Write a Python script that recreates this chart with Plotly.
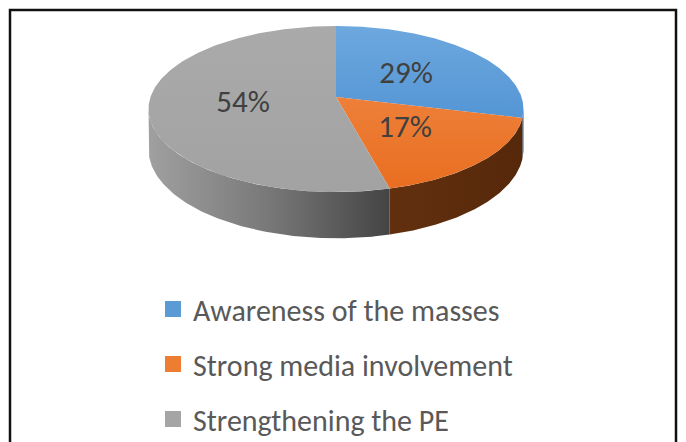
import numpy as np
import plotly.graph_objects as go

# ---- data ----
categories = ["Awareness of the masses", "Strong media involvement", "Strengthening the PE"]
values = [29, 17, 54]
labels = ["29%", "17%", "54%"]

# ---- style ----
top_scales = [
    [[0, "#6da8de"], [1, "#3f86cd"]],
    [[0, "#f28d4c"], [1, "#e86d1f"]],
    [[0, "#aaaaaa"], [1, "#a2a2a2"]],
]
side_scales = [
    [[0, "#2f5f8f"], [1, "#25507c"]],
    [[0, "#62300f"], [1, "#56280a"]],
    [[0, "#a0a0a0"], [0.5, "#787878"], [1, "#444444"]],
]
legend_colors = ["#5b9bd5", "#ed7d31", "#a5a5a5"]
FONT = "Carlito, 'Liberation Sans Narrow', 'DejaVu Sans Condensed', sans-serif"

W, H = 686, 442
CX, CY = 336, 97          # projected apex
A, B, K = 185.5, 81.3, 0.145   # perspective ellipse
DEPTH = 39.5
LABEL_DY = 2


def proj(theta_deg, r=1.0):
    t = np.radians(theta_deg)
    u = r * np.sin(t)
    v = -r * np.cos(t)
    w = 1 - K * v
    return CX + A * u / w, CY + B * v / w, w


total = float(sum(values))
ends = np.cumsum(values) / total * 360.0
starts = np.concatenate([[0.0], ends[:-1]])

s1 = np.degrees(np.arccos(-K))
s2 = 360.0 - s1

fig = go.Figure()

# sides
for i in range(len(values)):
    lo, hi = max(starts[i], s1), min(ends[i], s2)
    if lo >= hi:
        continue
    th = np.linspace(lo, hi, 120)
    x, y, w = proj(th)
    yb = y + DEPTH / w
    px = np.concatenate([x, x[::-1]])
    py = np.concatenate([y, yb[::-1]])
    fig.add_trace(go.Scatter(
        x=px, y=py, mode="lines", fill="toself",
        line=dict(width=0),
        fillgradient=dict(type="horizontal", colorscale=side_scales[i],
                          start=float(x.min()), stop=float(x.max())),
        hoverinfo="skip", showlegend=False))

# tops
for i in range(len(values)):
    th = np.linspace(starts[i], ends[i], 200)
    x, y, w = proj(th)
    px = np.concatenate([[CX], x, [CX]])
    py = np.concatenate([[CY], y, [CY]])
    fig.add_trace(go.Scatter(
        x=px, y=py, mode="lines", fill="toself",
        line=dict(width=0),
        fillgradient=dict(type="vertical", colorscale=top_scales[i],
                          start=26, stop=195),
        hoverinfo="skip", showlegend=False))

# labels
mids = (starts + ends) / 2
lx, ly, _ = proj(mids, 0.5)
fig.add_trace(go.Scatter(
    x=lx, y=ly + LABEL_DY, mode="text", text=labels,
    textfont=dict(family=FONT, size=31, color="#404040"),
    hoverinfo="skip", showlegend=False))

# legend entries
for i, c in enumerate(categories):
    fig.add_trace(go.Scatter(
        x=[None], y=[None], mode="markers", name=c, legendgroup=str(i),
        marker=dict(symbol="square", size=18, color=legend_colors[i]),
        showlegend=True))

fig.add_shape(type="rect", xref="x", yref="y", x0=10, y0=10, x1=676, y1=470,
              line=dict(color="#111111", width=2.5), fillcolor="rgba(0,0,0,0)",
              layer="above")

fig.update_layout(
    width=W, height=H,
    margin=dict(l=0, r=0, t=0, b=0, autoexpand=False),
    paper_bgcolor="white", plot_bgcolor="white",
    xaxis=dict(range=[0, W], visible=False, fixedrange=True),
    yaxis=dict(range=[H, 0], visible=False, fixedrange=True),
    showlegend=True,
    legend=dict(x=153 / W, y=1 - 283 / H, xanchor="left", yanchor="top",
                font=dict(family=FONT, size=30, color="#595959"),
                tracegroupgap=13, bgcolor="rgba(0,0,0,0)",
                itemclick=False, itemdoubleclick=False),
)

fig.write_html("out.html", config={"displayModeBar": False},
               post_script="document.body.style.margin='0';document.body.style.overflow='hidden';")
